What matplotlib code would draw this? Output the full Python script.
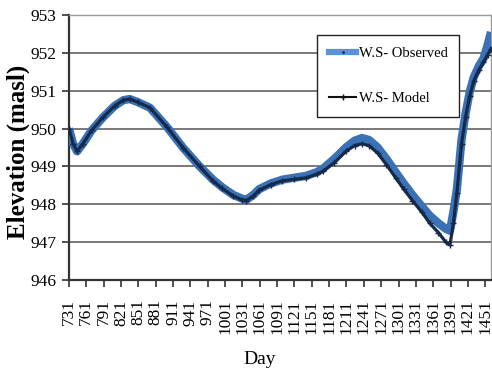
import matplotlib
matplotlib.use("Agg")
import matplotlib.pyplot as plt
from matplotlib.lines import Line2D

# ---- data ----
days_obs = [731, 738, 745, 755, 770, 790, 810, 825, 836, 850, 871, 900, 928, 957, 980,
            996, 1015, 1030, 1038, 1050, 1060, 1080, 1100, 1120, 1141, 1160, 1171, 1190,
            1210, 1225, 1238, 1250, 1265, 1280, 1296, 1310, 1325, 1341, 1355, 1370, 1383,
            1390, 1396, 1402, 1410, 1417, 1424, 1431, 1440, 1448, 1455, 1461]
observed = [950.0, 949.6, 949.4, 949.6, 949.95, 950.3, 950.6, 950.75, 950.78, 950.7, 950.55,
            950.05, 949.5, 949.0, 948.65, 948.45, 948.25, 948.15, 948.12, 948.25, 948.4,
            948.55, 948.65, 948.7, 948.75, 948.85, 948.95, 949.2, 949.5, 949.68, 949.75,
            949.7, 949.5, 949.2, 948.85, 948.55, 948.25, 947.95, 947.7, 947.5, 947.35,
            947.3, 947.8, 948.4, 949.7, 950.4, 950.95, 951.35, 951.65, 951.85, 952.2, 952.55]
model = [950.0, 949.6, 949.4, 949.6, 949.95, 950.3, 950.6, 950.75, 950.78, 950.7, 950.55,
         950.05, 949.5, 949.0, 948.62, 948.42, 948.22, 948.12, 948.1, 948.22, 948.37,
         948.52, 948.62, 948.66, 948.7, 948.8, 948.88, 949.1, 949.4, 949.55, 949.6,
         949.55, 949.35, 949.05, 948.7, 948.4, 948.1, 947.8, 947.5, 947.25, 947.0,
         946.93, 947.5, 948.3, 949.6, 950.3, 950.85, 951.25, 951.55, 951.75, 951.95, 952.1]
x_ticks = list(range(731, 1452, 30))
y_ticks = [946, 947, 948, 949, 950, 951, 952, 953]

serif = ["Liberation Serif", "DejaVu Serif"]
plt.rcParams["font.family"] = serif

fig = plt.figure(figsize=(4.92, 3.70), dpi=100)
ax = fig.add_axes([69 / 492, 1 - 280 / 370, 422 / 492, 265 / 370])

ax.plot(days_obs, observed, color="#3A72B5", lw=6, solid_capstyle="butt", zorder=3)
ax.plot(days_obs, model, color="#17294A", lw=2.3, marker="+", ms=4, mew=1.0, zorder=4)

ax.set_xlim(731, 1461)
ax.set_ylim(946, 953)
ax.set_yticks(y_ticks)
ax.set_yticklabels([str(v) for v in y_ticks], fontsize=12.5)
ax.set_xticks(x_ticks)
ax.set_xticklabels([str(v) for v in x_ticks], rotation=90, fontsize=12.5)
ax.tick_params(axis="x", direction="out", length=5, width=1.2, pad=9, color="#333333")
ax.tick_params(axis="y", direction="out", length=5, width=1.2, pad=4, color="#333333")

ax.grid(axis="y", color="#6E6E6E", lw=1.3, zorder=1)
ax.set_axisbelow(True)
for s in ["left", "bottom"]:
    ax.spines[s].set_color("#333333")
    ax.spines[s].set_linewidth(1.6)
for s in ["top", "right"]:
    ax.spines[s].set_color("#9A9A9A")
    ax.spines[s].set_linewidth(1.0)

fig.text(18 / 492, 1 - 152 / 370, "Elevation (masl)", rotation=90, ha="center",
         va="center", fontsize=18, fontweight="bold")
fig.text(260 / 492, 1 - 360 / 370, "Day", ha="center", va="center", fontsize=14)

handles = [
    Line2D([], [], color="#5B93D6", lw=4.5, marker=".", ms=2, mfc="#17294A", mec="#17294A"),
    Line2D([], [], color="#111111", lw=1.5, marker="+", ms=4, mew=1.0),
]
leg = ax.legend(handles, ["W.S- Observed", "W.S- Model"], loc="upper left",
                bbox_to_anchor=((317 - 69) / 422, (280 - 35) / 265),
                fontsize=10.5, frameon=True, fancybox=False, edgecolor="#222222",
                framealpha=1, labelspacing=2.2, handlelength=1.9, handletextpad=0.15,
                borderpad=0.8, borderaxespad=0)
leg.get_frame().set_linewidth(1.0)
leg.set_zorder(2)

fig.savefig("out.png", dpi=100)
